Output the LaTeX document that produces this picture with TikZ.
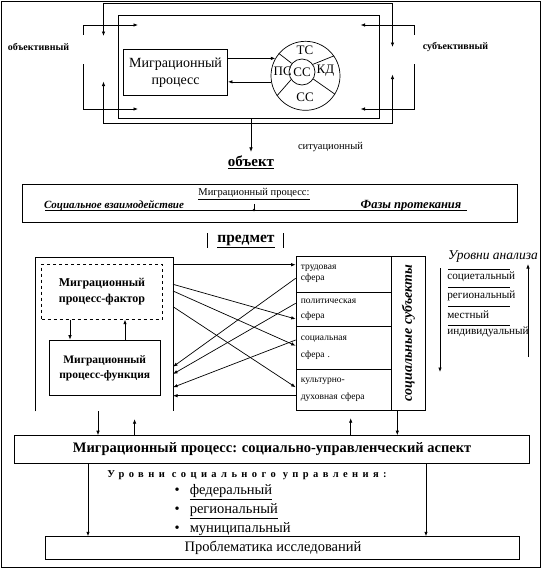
\documentclass[tikz,border=0pt]{standalone}
\usepackage{fontspec}
\setmainfont{Liberation Serif}
\usetikzlibrary{positioning,arrows.meta}

\begin{document}
\begin{tikzpicture}[x=1pt,y=-1pt,line width=0.7pt,
  >={Latex[length=4.5pt,width=3.5pt]},
  box/.style={draw, inner sep=0pt, align=center},
  cell/.style={draw, inner sep=0pt, minimum width=95.7pt, text width=86pt, align=left,
    font=\fontsize{9.5}{11}\selectfont},
  lvl/.style={anchor=west, inner sep=0pt, font=\fontsize{11.2}{13}\selectfont},
  side/.style={font=\bfseries\fontsize{10}{12}\selectfont},
  ring/.style={font=\fontsize{13}{15}\selectfont, inner sep=0pt},
  item/.style={anchor=west, font=\fontsize{14.5}{16}\selectfont}]

  \useasboundingbox (0,0) rectangle (541,568);
  \draw[line width=1pt] (1,1) rectangle (540,567);

  % object
  \coordinate (o1) at (103.5,3);
  \coordinate (o2) at (392.5,3);
  \coordinate (o3) at (392.5,123.5);
  \coordinate (o4) at (103.5,123.5);
  \draw (o1) -- (o2);
  \draw (o4) -- (o3);
  \draw[->] (o1) -- ++(0,33);
  \draw[->] (o4) -- ++(0,-42);
  \draw[->] (o2) -- ++(0,44);
  \draw[->] (o3) -- ++(0,-49);

  \node (IN) [box, minimum width=261pt, minimum height=102.5pt] at (248.5,66.75) {};
  \node (MP) [box, minimum width=104pt, minimum height=46.6pt,
    font=\fontsize{14}{17}\selectfont] at (175.6,72.3) {Миграционный\\процесс};
  \node (C) [draw, circle, minimum size=69pt, inner sep=0pt] at (305.5,75.8) {};
  \node (C0) [draw, circle, minimum size=26pt, ring] at (302,72) {СС};
  \foreach \a in {35,140,215,328}
    \draw (C0.\a) -- (C.\a);
  \node (TS) [ring] at (305,50) {ТС};
  \node (PS) [ring] at (282.7,71) {ПС};
  \node (KD) [ring] at (325.5,71) {КД};
  \node (SC) [ring] at (305,97.7) {СС};
  \draw[->] (MP.east |- C.150) -- (C.150);
  \draw[->] (C.190) -- (MP.east |- C.190);

  \node (OB) [side] at (38.5,46.5) {объективный};
  \coordinate (l1) at (83.5,34.5);
  \coordinate (l2) at (83.5,64);
  \coordinate (la) at (138,25);
  \coordinate (lb) at (138,109);
  \draw[->] (l1) |- (la);
  \draw[->] (l2) |- (lb);

  \node (SU) [side] at (455.5,46.5) {субъективный};
  \coordinate (r1) at (414,34.5);
  \coordinate (r2) at (414,64);
  \coordinate (ra) at (360.6,25);
  \coordinate (rb) at (360.6,109);
  \draw[->] (r1) |- (ra);
  \draw[->] (r2) |- (rb);

  \node (SI) [font=\fontsize{10.5}{12}\selectfont] at (330.5,146.6) {ситуационный};
  \node (OT) [font=\bfseries\fontsize{15}{17}\selectfont] at (251,162) {\underline{объект}};
  \draw[->] (IN.south -| OT.north) -- (OT.north);

  \node (MB) [box, minimum width=495pt, minimum height=38pt] at (270,203) {};
  \node (MPt) [font=\fontsize{10.5}{12}\selectfont] at (254,194.5) {\underline{Миграционный процесс:}};
  \node (SV) [font=\bfseries\itshape\fontsize{11}{13}\selectfont] at (114,205.5) {Социальное взаимодействие};
  \node (FP) [font=\bfseries\itshape\fontsize{12.5}{14}\selectfont] at (411,205.3) {Фазы протекания};
  \coordinate (u1) at (45,210);
  \coordinate (u2) at (467,210);
  \draw (u1) -- (u2);
  \draw (MPt.south) -- (MPt.south |- u1);
  \fill (MPt.south |- u1) circle (1.3);

  % subject
  \node (PR) [font=\bfseries\fontsize{15.5}{17}\selectfont] at (246,241) {\underline{предмет}};
  \draw (207.7,233) -- (207.7,248);
  \draw (283,233) -- (283,248);

  \node (LR) [minimum width=137pt, minimum height=153pt, inner sep=0pt] at (104.2,334.5) {};
  \draw (LR.south west) -- (LR.north west) -- (LR.north east) -- (LR.south east);
  \node (F) [box, dashed, minimum width=120.6pt, minimum height=55.3pt,
    font=\bfseries\fontsize{12}{16}\selectfont] at (102,291.7) {Миграционный\\процесс-фактор};
  \node (FN) [box, minimum width=110.7pt, minimum height=55.7pt,
    font=\bfseries\fontsize{11.5}{15}\selectfont] at (104.7,367.9) {Миграционный\\процесс-функция};
  \draw[->] ([xshift=-32pt]F.south) -- ([xshift=-32pt]F.south |- FN.north);
  \draw[->] ([xshift=23pt]F.south |- FN.north) -- ([xshift=23pt]F.south);

  \node (S1) [cell, minimum height=36.3pt] at (343.85,274.15) {трудовая\\сфера};
  \node (S2) [cell, minimum height=34.4pt] at (343.85,309.5) {политическая\\[4pt]сфера};
  \node (S3) [cell, minimum height=42.6pt] at (343.85,348) {социальная\\[6pt]сфера .};
  \node (S4) [cell, minimum height=40.7pt] at (343.85,389.65) {культурно-\\[6pt]духовная сфера};
  \node (SS) [box, minimum width=33.3pt, minimum height=154pt] at (408.35,333) {};
  \node (SSt) [rotate=90, font=\bfseries\itshape\fontsize{14}{16}\selectfont] at (SS) {социальные субъекты};

  \draw[->] (LR.east |- 0,264.7) -- (S1.west |- 0,264.7);
  \draw[->] (LR.east |- 0,284.3) -- (S2.west |- 0,319);
  \draw[->] (LR.east |- 0,291) -- (S3.west |- 0,345.7);
  \draw[->] (LR.east |- 0,306.7) -- (S4.west |- 0,387.3);
  \draw[->] (S1.west |- 0,278.3) -- (LR.east |- 0,366.7);
  \draw[->] (S2.west |- 0,303.3) -- (LR.east |- 0,374);
  \draw[->] (S3.west |- 0,340) -- (LR.east |- 0,387.3);
  \draw[->] (S4.west |- 0,395.7) -- (LR.east |- 0,395.7);

  \node (UA) [font=\itshape\fontsize{13.5}{16}\selectfont] at (493,256.5) {Уровни анализа};
  \foreach \y in {269,287,306.7,325.7}
    \draw (448,\y) -- (510,\y);
  \node (L1) [lvl] at (447,277) {социетальный};
  \node (L2) [lvl] at (447,295.5) {региональный};
  \node (L3) [lvl] at (447,315) {местный};
  \node (L4) [lvl] at (447,332) {индивидуальный};
  \coordinate (a1) at (440,268);
  \coordinate (a2) at (440,372);
  \coordinate (b1) at (528,357);
  \coordinate (b2) at (528,264);
  \draw[->] (a1) -- (a2);
  \draw[->] (b1) -- (b2);

  % management
  \node (MS) [box, minimum width=515.2pt, minimum height=27.5pt,
    font=\bfseries\fontsize{14.5}{16}\selectfont] at (272.1,449.25)
    {Миграционный процесс: социально-управленческий аспект};
  \draw[->] (LR.south -| 98,0) -- (MS.north -| 98,0);
  \draw[->] (MS.north -| 134.6,0) -- ++(0,-16);
  \draw[->] (MS.north -| 350.7,0) -- ++(0,-17);
  \draw[->] (SS.south -| 397.3,0) -- (MS.north -| 397.3,0);

  \node (UU) [font=\bfseries\fontsize{10.5}{12}\selectfont\addfontfeature{LetterSpace=42}]
    at (247,475) {Уровни социального управления:};
  \node (B1) [item] at (171,492.5) {•\hspace{10pt}\underline{федеральный}};
  \node (B2) [item] at (171,511.4) {•\hspace{10pt}\underline{региональный}};
  \node (B3) [item] at (171,529.7) {•\hspace{10pt}\underline{муниципальный}};

  \node (PB) [box, minimum width=474.4pt, minimum height=23.1pt] at (282.1,548.15) {};
  \node (PBt) [font=\fontsize{14.5}{16}\selectfont] at (273,548) {Проблематика исследований};
  \draw[->] (MS.south -| 88,0) -- (PB.north -| 88,0);
  \draw[->] (MS.south -| 426,0) -- (PB.north -| 426,0);

\end{tikzpicture}
\end{document}
